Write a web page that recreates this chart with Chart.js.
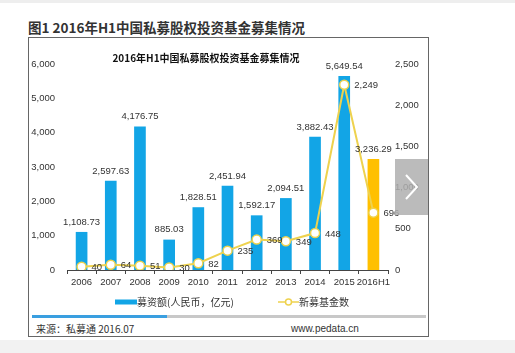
<!DOCTYPE html>
<html>
<head>
<meta charset="utf-8">
<script src="https://cdn.jsdelivr.net/npm/chart.js@4"></script>
<style>
  html, body { margin: 0; padding: 0; background: #fff; }
  body { width: 515px; height: 353px; position: relative; overflow: hidden;
         font-family: "Liberation Sans", Arial, "Noto Sans CJK SC", sans-serif; color: #333; }
  #topstrip { position: absolute; left: 0; top: 0; width: 515px; height: 3px; background: #eeeeee; }
  #botstrip { position: absolute; left: 0; top: 340px; width: 515px; height: 13px; background: #f2f2f2; }
  #heading { position: absolute; left: 28px; top: 18px; font-size: 13.5px; font-weight: bold; color: #333;
             font-family: "Noto Sans CJK SC", "Liberation Sans", sans-serif; white-space: nowrap; line-height: 18px; }
  #box { position: absolute; left: 28px; top: 37px; width: 399px; height: 298px; border: 1px solid #666; }
  #wrap { position: absolute; left: 0; top: 0; width: 399px; height: 272px; }
  #bar-track { position: absolute; left: 3px; top: 277px; width: 394px; height: 3px; background: #c8c8c8; }
  #bar-fill { position: absolute; left: 0; top: 0; width: 135px; height: 3px; background: #3a9fe0; }
  .foot { position: absolute; top: 284px; font-size: 10px; line-height: 14px; color: #333;
          font-family: "Noto Sans CJK SC", "Liberation Sans", sans-serif; white-space: nowrap; }
  #next { position: absolute; left: 395px; top: 159px; width: 33px; height: 56px; background: rgba(175,175,175,0.85); }
</style>
</head>
<body>
<div id="topstrip"></div>
<div id="botstrip"></div>
<div id="heading">图1 2016年H1中国私募股权投资基金募集情况</div>
<div id="box">
  <div id="wrap"><canvas id="chart" width="399" height="272"></canvas></div>
  <div id="bar-track"><div id="bar-fill"></div></div>
  <div class="foot" style="left:7px">来源：私募通 2016.07</div>
  <div class="foot" style="left:262px; font-family:'Liberation Sans', Arial, sans-serif">www.pedata.cn</div>
</div>
<div id="next">
  <svg width="33" height="56"><polyline points="11,16 22,28 11,40" fill="none" stroke="#fff" stroke-width="2"/></svg>
</div>
<script>
const years = ['2006', '2007', '2008', '2009', '2010', '2011', '2012', '2013', '2014', '2015', '2016H1'];
const raised = [1108.73, 2597.63, 4176.75, 885.03, 1828.51, 2451.94, 1592.17, 2094.51, 3882.43, 5649.54, 3236.29];
const newFunds = [40, 64, 51, 30, 82, 235, 369, 349, 448, 2249, 696];

const chartTitle = '2016年H1中国私募股权投资基金募集情况';
const raisedLabel = '募资额(人民币，亿元)';
const fundsLabel = '新募基金数';

const BLUE = '#12a5e6';
const ORANGE = '#ffc000';
const YELLOW = '#eed24e';
const numFont = '9.5px "Liberation Sans", Arial, sans-serif';
const cjkFont = '"Noto Sans CJK SC", "Liberation Sans", sans-serif';

let fmt2 = v => v.toLocaleString('en-US', { minimumFractionDigits: 2, maximumFractionDigits: 2 });
let fmt0 = v => v.toLocaleString('en-US');

// titles, data labels and legend are drawn by hand
const extras = {
  id: 'extras',
  afterDatasetsDraw(chart) {
    const ctx = chart.ctx;
    const area = chart.chartArea;
    ctx.save();

    ctx.fillStyle = '#111';
    ctx.font = 'bold 10px ' + cjkFont;
    ctx.textAlign = 'center';
    ctx.textBaseline = 'middle';
    ctx.fillText(chartTitle, 177, 20);

    ctx.font = numFont;
    ctx.fillStyle = '#333';
    const barMeta = chart.getDatasetMeta(1);
    barMeta.data.forEach((el, i) => {
      ctx.textAlign = 'center';
      ctx.textBaseline = 'bottom';
      ctx.fillText(fmt2(raised[i]), el.x, el.y - 5);
    });
    const lineMeta = chart.getDatasetMeta(0);
    lineMeta.data.forEach((el, i) => {
      ctx.textAlign = 'left';
      ctx.textBaseline = 'middle';
      ctx.fillText(fmt0(newFunds[i]), el.x + 10, el.y + 1);
    });

    // legend
    const ly = 264;
    ctx.fillStyle = BLUE;
    ctx.fillRect(86, ly - 2.5, 22, 5);
    ctx.fillStyle = '#333';
    ctx.font = '10px ' + cjkFont;
    ctx.textAlign = 'left';
    ctx.fillText(raisedLabel, 108, ly);
    ctx.strokeStyle = YELLOW;
    ctx.lineWidth = 1.5;
    ctx.beginPath();
    ctx.moveTo(249, ly);
    ctx.lineTo(270, ly);
    ctx.stroke();
    ctx.beginPath();
    ctx.arc(259.5, ly, 3, 0, Math.PI * 2);
    ctx.fillStyle = '#fff';
    ctx.fill();
    ctx.stroke();
    ctx.fillStyle = '#333';
    ctx.fillText(fundsLabel, 270, ly);
    ctx.restore();
  }
};

new Chart(document.getElementById('chart'), {
  data: {
    labels: years,
    datasets: [
      {
        type: 'line',
        label: fundsLabel,
        data: newFunds,
        yAxisID: 'y2',
        borderColor: YELLOW,
        borderWidth: 2,
        pointRadius: 4.5,
        pointBackgroundColor: '#fff',
        pointBorderColor: YELLOW,
        pointBorderWidth: 1.5,
        tension: 0,
        order: 0
      },
      {
        type: 'bar',
        label: raisedLabel,
        data: raised,
        yAxisID: 'y',
        backgroundColor: raised.map((v, i) => i === raised.length - 1 ? ORANGE : BLUE),
        categoryPercentage: 1,
        barPercentage: 0.4,
        order: 1
      }
    ]
  },
  options: {
    responsive: false,
    animation: false,
    layout: { padding: { top: 26, bottom: 18, left: 0, right: 0 } },
    plugins: { legend: { display: false }, tooltip: { enabled: false } },
    scales: {
      x: {
        grid: { display: true, offset: true, drawOnChartArea: false, drawTicks: true, tickLength: 4, color: '#444' },
        border: { display: true, color: '#444', width: 1 },
        ticks: { font: { family: '"Liberation Sans", Arial, sans-serif', size: 9.5 }, color: '#333', padding: 3, maxRotation: 0, autoSkip: false },
        afterFit: s => { s.height = 22; }
      },
      y: {
        position: 'left',
        min: 0, max: 6000,
        grid: { display: false, drawTicks: false },
        border: { display: false },
        ticks: { stepSize: 1000, padding: 12, color: '#333', font: { family: '"Liberation Sans", Arial, sans-serif', size: 9.5 },
                 callback: v => fmt0(v) },
        afterFit: s => { s.width = 38; }
      },
      y2: {
        position: 'right',
        min: 0, max: 2500,
        grid: { display: false, drawTicks: false },
        border: { display: false },
        ticks: { stepSize: 500, padding: 7, color: '#333', font: { family: '"Liberation Sans", Arial, sans-serif', size: 9.5 },
                 callback: v => fmt0(v) },
        afterFit: s => { s.width = 40; }
      }
    }
  },
  plugins: [extras]
});
</script>
</body>
</html>
